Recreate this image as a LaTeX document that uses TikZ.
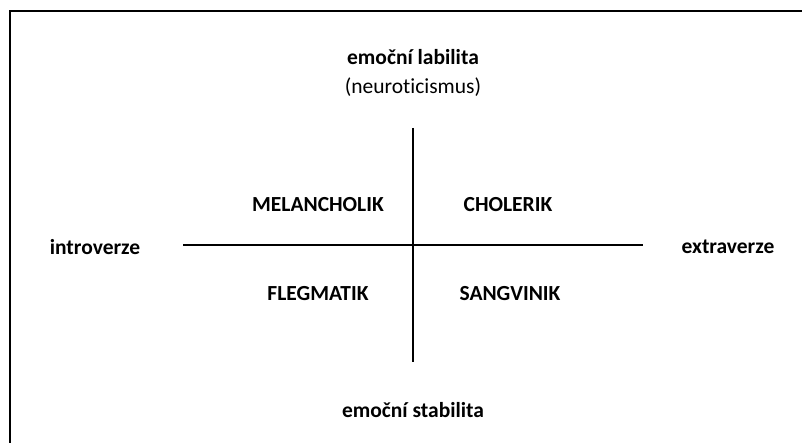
\documentclass[tikz,border=0pt]{standalone}
\usepackage{fontspec}
\setmainfont{Carlito}[Ligatures=NoCommon]
\begin{document}
\begin{tikzpicture}[x=1pt,y=-1pt,
    pole/.style={font=\fontsize{21.5}{24}\selectfont\bfseries},
    typ/.style={font=\fontsize{21.5}{24}\selectfont\bfseries}]
      \useasboundingbox (0,0) rectangle (802,443);
      \draw[line width=2pt] (10,443) -- (10,11) -- (802,11);
      \draw
        (413,57) node[pole] (lab){emoční labilita}
        (413,87) node[font=\fontsize{21.5}{24}\selectfont] (neu){(neuroticismus)}
        (413,410) node[pole] (stab){emoční stabilita}
        (95,247) node[pole] (intro){introverze}
        (728,247) node[pole] (extra){extraverze}
        (318,205) node[typ] (mel){MELANCHOLIK}
        (508,205) node[typ] (chol){CHOLERIK}
        (318,294) node[typ] (fleg){FLEGMATIK}
        (510,294) node[typ] (sang){SANGVINIK};
      \coordinate (top) at (413,128);
      \coordinate (bot) at (413,362);
      \coordinate (left) at (183,245);
      \coordinate (right) at (643,245);
      \begin{scope}[line width=1.5pt]
        \draw (top) to (bot);
        \draw (left) to (right);
      \end{scope}
    \end{tikzpicture}
\end{document}
